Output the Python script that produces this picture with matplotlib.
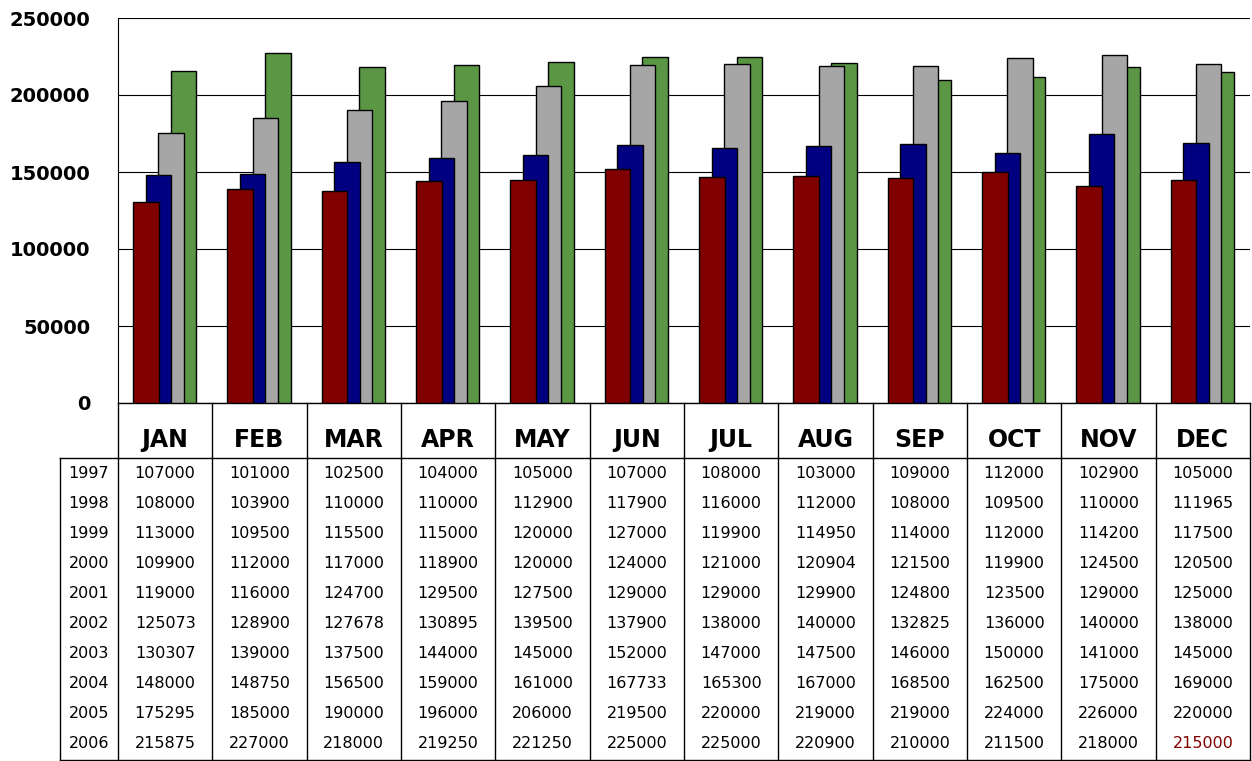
import matplotlib
matplotlib.use("Agg")
import matplotlib.pyplot as plt
import numpy as np

months = ["JAN","FEB","MAR","APR","MAY","JUN","JUL","AUG","SEP","OCT","NOV","DEC"]
years = [1997,1998,1999,2000,2001,2002,2003,2004,2005,2006]
table = [
 [107000,101000,102500,104000,105000,107000,108000,103000,109000,112000,102900,105000],
 [108000,103900,110000,110000,112900,117900,116000,112000,108000,109500,110000,111965],
 [113000,109500,115500,115000,120000,127000,119900,114950,114000,112000,114200,117500],
 [109900,112000,117000,118900,120000,124000,121000,120904,121500,119900,124500,120500],
 [119000,116000,124700,129500,127500,129000,129000,129900,124800,123500,129000,125000],
 [125073,128900,127678,130895,139500,137900,138000,140000,132825,136000,140000,138000],
 [130307,139000,137500,144000,145000,152000,147000,147500,146000,150000,141000,145000],
 [148000,148750,156500,159000,161000,167733,165300,167000,168500,162500,175000,169000],
 [175295,185000,190000,196000,206000,219500,220000,219000,219000,224000,226000,220000],
 [215875,227000,218000,219250,221250,225000,225000,220900,210000,211500,218000,215000],
]
bar_years = [2003,2004,2005,2006]
bar_colors = ["#800000","#000080","#a6a6a6","#5b9645"]

W,H = 1252,761
fig = plt.figure(figsize=(W/100,H/100),dpi=100)
L,R,B,T = 118,1250,403,18
ax = fig.add_axes([L/W,1-B/H,(R-L)/W,(B-T)/H])
x = np.arange(12)
for k,(yr,c) in enumerate(zip(bar_years,bar_colors)):
    vals = table[years.index(yr)]
    ax.bar(x+0.16+k*0.133, vals, width=0.27, align="edge", color=c, edgecolor="black", linewidth=1.0, zorder=10-k)
ax.set_xlim(0,12)
ax.set_ylim(0,250000)
ax.set_yticks(range(0,250001,50000))
ax.set_yticklabels([str(v) for v in range(0,250001,50000)], fontsize=14, fontweight="bold")
ax.tick_params(axis="y", length=0, pad=20)
ax.set_xticks([])
ax.grid(axis="y", color="black", linewidth=0.8, zorder=0)
for s in ["top","right"]:
    ax.spines[s].set_visible(False)
ax.spines["left"].set_linewidth(0.8)
ax.spines["bottom"].set_linewidth(1)

tax = fig.add_axes([0,0,1,1]); tax.set_xlim(0,W); tax.set_ylim(H,0); tax.axis("off")
cw = (R-L)/12
lk = dict(color="black", linewidth=1)
for i in range(13):
    xx = L+i*cw
    tax.plot([xx,xx],[B,H],**lk)
tax.plot([60,R],[458,458],**lk)
tax.plot([60,60],[458,H],**lk)
tax.plot([60,R],[H-1,H-1],**lk)
for i,m in enumerate(months):
    tax.text(L+(i+0.5)*cw, 440, m, ha="center", va="center", fontsize=17, fontweight="bold")
rh = 30
for r,yr in enumerate(years):
    yy = 474+r*rh
    tax.text(89, yy, str(yr), ha="center", va="center", fontsize=11.5)
    for i,v in enumerate(table[r]):
        col = "#800000" if (r==len(years)-1 and i==11) else "black"
        tax.text(L+(i+0.5)*cw, yy, str(v), ha="center", va="center", fontsize=11.5, color=col)
fig.savefig("out.png", dpi=100)
